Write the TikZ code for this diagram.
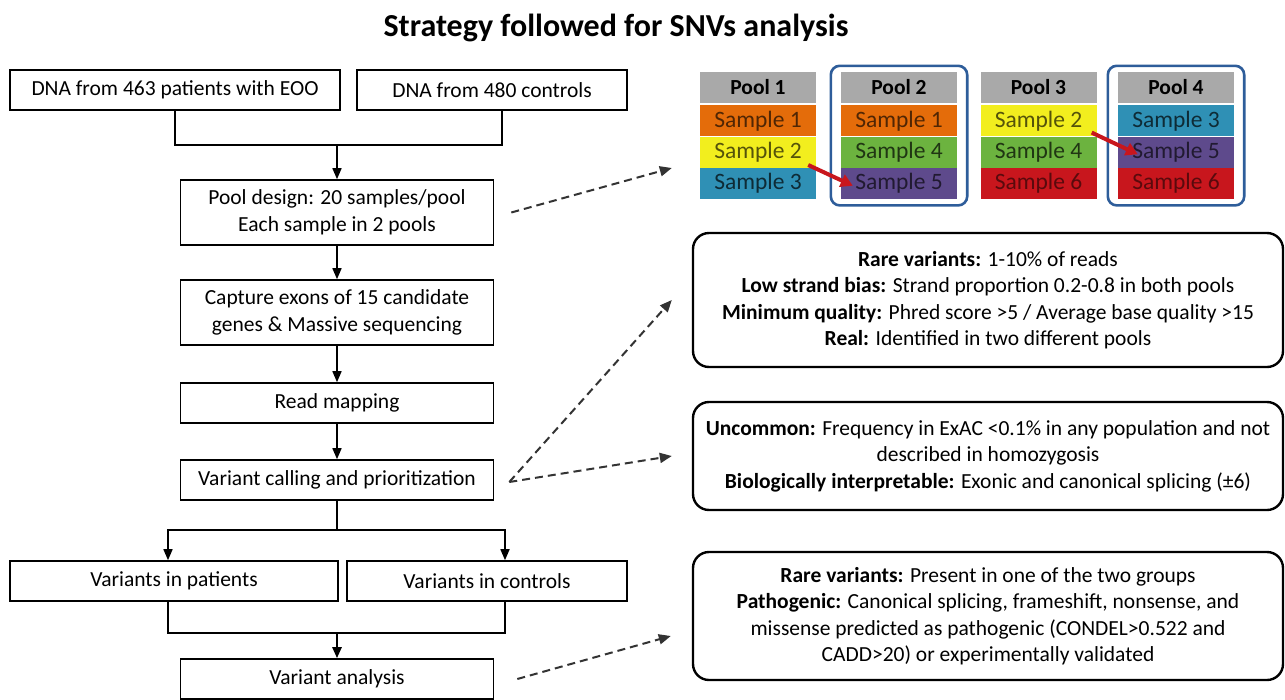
\documentclass[tikz,border=0pt]{standalone}
\usepackage{fontspec}
\setmainfont{Carlito}
\usetikzlibrary{arrows.meta,fit,positioning}

\definecolor{poolgray}{HTML}{A9A9A9}
\definecolor{sorange}{HTML}{E46C0A}
\definecolor{syellow}{HTML}{F2EE1E}
\definecolor{sblue}{HTML}{2F90B5}
\definecolor{sgreen}{HTML}{6CB33F}
\definecolor{spurple}{HTML}{5E4A8C}
\definecolor{sred}{HTML}{C8161D}
\definecolor{frameblue}{HTML}{2E5D9A}

\begin{document}
\begin{tikzpicture}[
  x=1pt, y=-1pt,
  flow/.style={draw, line width=1.6pt, minimum height=40pt, align=center,
               font=\fontsize{21.5}{26.5}\selectfont, inner sep=0pt},
  crit/.style={draw, line width=2.4pt, rounded corners=16pt, minimum width=590pt,
               align=center, font=\fontsize{21.5}{26.5}\selectfont, inner sep=0pt},
  cell/.style={minimum width=116pt, minimum height=31pt, inner sep=0pt,
               font=\fontsize{23.5}{24}\selectfont},
  head/.style={cell, fill=poolgray, font=\bfseries\fontsize{21.5}{22}\selectfont},
  frame/.style={draw=frameblue, line width=2.6pt, rounded corners=9pt,
                inner xsep=10pt, inner ysep=6pt},
  link/.style={line width=1.6pt},
  arrow/.style={-{Triangle[length=11pt,width=9pt]}, line width=1.6pt},
  hint/.style={dash pattern=on 8pt off 5pt, -{Triangle[length=12pt,width=10pt]},
               line width=2pt, black!80},
  swap/.style={-{Triangle[length=12pt,width=13pt]}, line width=4pt, sred}
]
  \useasboundingbox (0,0) rectangle (1285,699);

  \node[font=\bfseries\fontsize{32}{36}\selectfont] (title) at (616,28)
    {Strategy followed for SNVs analysis};

  % left column
  \node[flow, minimum width=330pt] (pat) at (175,90) {DNA from 463 patients with EOO};
  \node[flow, minimum width=270pt] (ctl) at (492,90) {DNA from 480 controls};
  \node[flow, minimum width=313pt, minimum height=65pt] (design) at (337,212.5)
    {Pool design: 20 samples/pool\\Each sample in 2 pools};
  \node[flow, minimum width=313pt, minimum height=65pt] (capture) at (337,312.5)
    {Capture exons of 15 candidate\\genes \& Massive sequencing};
  \node[flow, minimum width=313pt] (mapping) at (337,403) {Read mapping};
  \node[flow, minimum width=313pt] (calling) at (337,480) {Variant calling and prioritization};
  \node[flow, minimum width=328pt] (vpat) at (174,581) {Variants in patients};
  \node[flow, minimum width=280pt] (vctl) at (487,581) {Variants in controls};
  \node[flow, minimum width=313pt] (analysis) at (337,679) {Variant analysis};

  \coordinate (join) at (337,145);
  \coordinate (split) at (337,530);
  \coordinate (merge) at (337,633);

  \draw[link] (pat.south) |- (join) -| ([xshift=10pt]ctl.south);
  \draw[arrow] (join) -- (design.north);
  \draw[arrow] (design) -- (capture);
  \draw[arrow] (capture) -- (mapping);
  \draw[arrow] (mapping) -- (calling);
  \draw[link, line width=2.4pt] (calling) -- (split);
  \draw[arrow] (split) -| ([xshift=-6pt]vpat.north);
  \draw[arrow] (split) -| ([xshift=18pt]vctl.north);
  \draw[link] ([xshift=-6pt]vpat.south) |- (merge) -| ([xshift=18pt]vctl.south);
  \draw[link, line width=2.4pt, -{Triangle[length=11pt,width=9pt]}] (merge) -- (analysis.north);

  % pools
  \node[head] (p1) at (758,87.5) {Pool 1};
  \node[cell, fill=sorange, text=sorange!35!black, below=2pt of p1] (p1a) {Sample 1};
  \node[cell, fill=syellow, text=syellow!35!black, below=0pt of p1a] (p1b) {Sample 2};
  \node[cell, fill=sblue, text=sblue!30!black, below=0pt of p1b] (p1c) {Sample 3};

  \node[head] (p2) at (899,87.5) {Pool 2};
  \node[cell, fill=sorange, text=sorange!35!black, below=2pt of p2] (p2a) {Sample 1};
  \node[cell, fill=sgreen, text=sgreen!30!black, below=0pt of p2a] (p2b) {Sample 4};
  \node[cell, fill=spurple, text=spurple!35!black, below=0pt of p2b] (p2c) {Sample 5};

  \node[head] (p3) at (1038.5,87.5) {Pool 3};
  \node[cell, fill=syellow, text=syellow!35!black, below=2pt of p3] (p3a) {Sample 2};
  \node[cell, fill=sgreen, text=sgreen!30!black, below=0pt of p3a] (p3b) {Sample 4};
  \node[cell, fill=sred, text=sred!45!black, below=0pt of p3b] (p3c) {Sample 6};

  \node[head] (p4) at (1176,87.5) {Pool 4};
  \node[cell, fill=sblue, text=sblue!30!black, below=2pt of p4] (p4a) {Sample 3};
  \node[cell, fill=spurple, text=spurple!35!black, below=0pt of p4a] (p4b) {Sample 5};
  \node[cell, fill=sred, text=sred!45!black, below=0pt of p4b] (p4c) {Sample 6};

  \node[frame, fit=(p2)(p2c)] (f2) {};
  \node[frame, fit=(p4)(p4c)] (f4) {};

  \draw[swap] ([xshift=-8pt,yshift=3pt]p1b.south east) -- ([xshift=12pt,yshift=-2pt]p2c.west);
  \draw[swap] ([xshift=-5pt,yshift=4pt]p3a.south east) -- ([xshift=20pt,yshift=-2pt]p4b.west);

  % filters
  \node[crit, minimum height=134pt] (rules) at (988,300)
    {\textbf{Rare variants:} 1-10\% of reads\\
     \textbf{Low strand bias:} Strand proportion 0.2-0.8 in both pools\\
     \textbf{Minimum quality:} Phred score >5 / Average base quality >15\\
     \textbf{Real:} Identified in two different pools};
  \node[crit, minimum height=108pt] (filters) at (988,456)
    {\textbf{Uncommon:} Frequency in ExAC <0.1\% in any population and not\\
     described in homozygosis\\
     \textbf{Biologically interpretable:} Exonic and canonical splicing (±6)};
  \node[crit, minimum height=128pt] (final) at (988,616)
    {\textbf{Rare variants:} Present in one of the two groups\\
     \textbf{Pathogenic:} Canonical splicing, frameshift, nonsense, and\\
     missense predicted as pathogenic (CONDEL>0.522 and\\
     CADD>20) or experimentally validated};

  \draw[hint] ([xshift=17pt]design.east) -- ([xshift=-28pt]p1c.north west);
  \draw[hint] ([xshift=15pt,yshift=-2pt]calling.east) -- ([xshift=-20pt]rules.west);
  \draw[hint] ([xshift=15pt,yshift=-2pt]calling.east) -- ([xshift=-20pt]filters.west);
  \draw[hint] ([xshift=23pt]analysis.east) -- ([xshift=-21pt,yshift=-20pt]final.west);
\end{tikzpicture}
\end{document}
